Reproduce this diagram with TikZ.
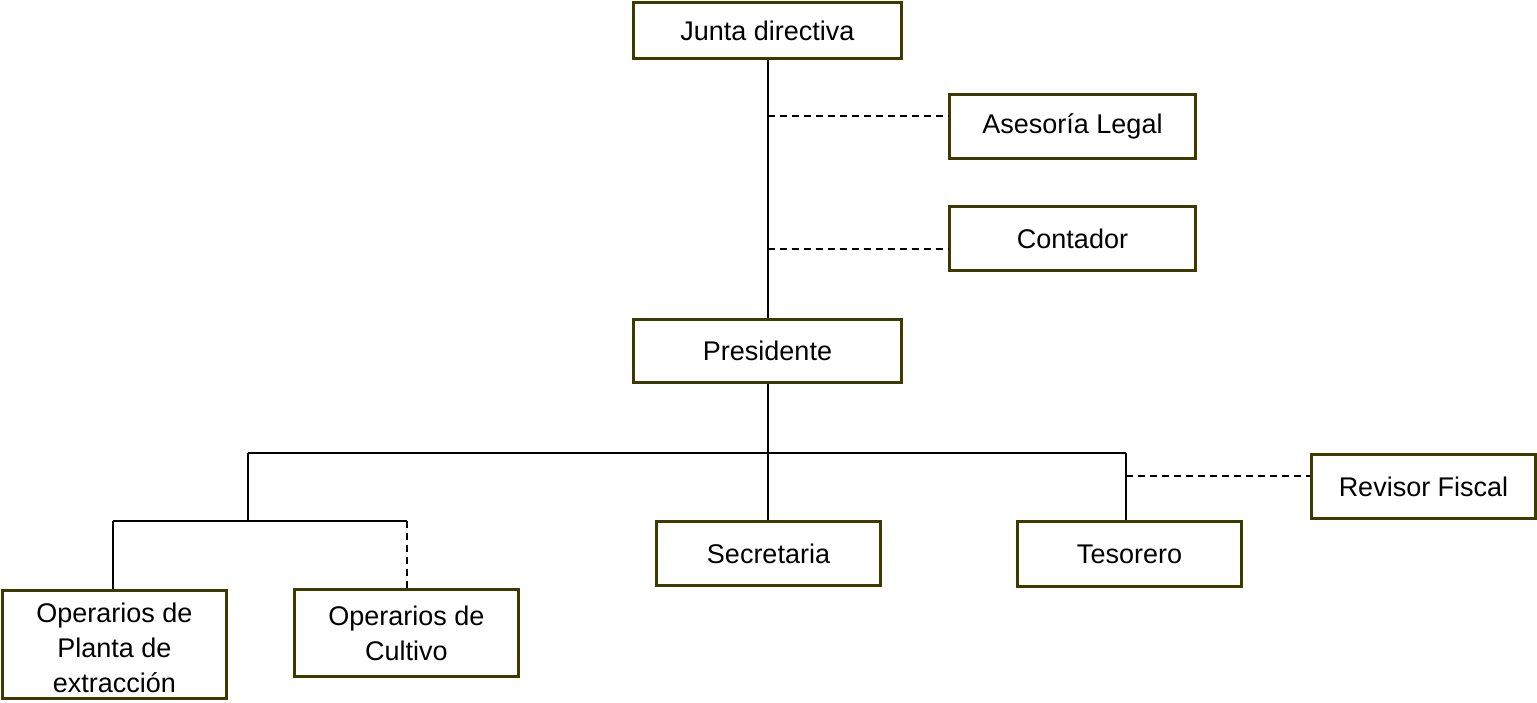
\documentclass[tikz,border=0pt]{standalone}
\usepackage{fontspec}
\setmainfont{Liberation Sans}
\definecolor{boxline}{HTML}{3D3A00}
\begin{document}
\begin{tikzpicture}[x=1pt,y=-1pt,
  orgbox/.style={draw=boxline,line width=2.6pt,fill=white,inner sep=0pt,
    minimum width=224pt,minimum height=64pt,align=center,
    font=\fontsize{27}{35}\selectfont},
  conn/.style={line width=2.2pt,black},
  dconn/.style={line width=1.8pt,black,dash pattern=on 7pt off 5pt}]
\useasboundingbox (0,0) rectangle (1537,703);
% nodes
\node[orgbox,minimum width=268pt,minimum height=56pt] (jd) at (767.5,30.5) {Junta directiva};
\node[orgbox,minimum width=246pt] (al) at (1072.5,126.5) {Asesoría Legal};
\node[orgbox,minimum width=246pt] (co) at (1072.5,238.5) {Contador};
\node[orgbox,minimum width=268pt,minimum height=63pt] (pr) at (767.5,351) {Presidente};
\node[orgbox] (se) at (768.5,553.5) {Secretaria};
\node[orgbox,minimum height=65pt] (te) at (1129.5,554) {Tesorero};
\node[orgbox] (rf) at (1423.5,486.5) {Revisor Fiscal};
\node[orgbox,minimum height=108pt,text height=101.5pt,text depth=6.5pt] (op) at (114.5,644.5) {Operarios de\\Planta de\\extracción};
\node[orgbox,minimum height=87pt] (oc) at (406.5,633) {Operarios de\\Cultivo};
% coordinates
\coordinate (ja) at (768,116);
\coordinate (jc) at (768,249);
\coordinate (bm) at (768,453);
\coordinate (bl) at (248,453);
\coordinate (br) at (1126,453);
\coordinate (rt) at (1126,476);
\coordinate (lm) at (248,521);
\coordinate (ll) at (113,521);
\coordinate (lr) at (407,521);
% connectors
\draw[conn] (bm |- jd.south) -- (bm |- pr.north);
\draw[dconn] (ja) -- (ja -| al.west);
\draw[dconn] (jc) -- (jc -| co.west);
\draw[conn] (bm |- pr.south) -- (bm);
\draw[conn] (bl) -- (br);
\draw[conn] (bm) -- (bm |- se.north);
\draw[conn] (br) -- (br |- te.north);
\draw[dconn] (rt) -- (rt -| rf.west);
\draw[conn] (bl) -- (lm);
\draw[conn] (ll) -- (lr);
\draw[conn] (ll) -- (ll |- op.north);
\draw[dconn] (lr) -- (lr |- oc.north);
\end{tikzpicture}
\end{document}
